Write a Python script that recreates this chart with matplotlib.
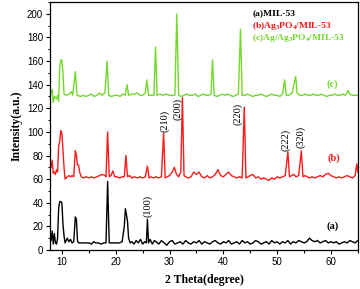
import matplotlib
matplotlib.use('Agg')
import matplotlib.pyplot as plt
from matplotlib.ticker import MultipleLocator

# hand-read points (2theta, intensity) for each pattern
mil53 = [(8.0, 8), (8.2, 16), (8.4, 5), (8.6, 14), (8.8, 6), (9.0, 5), (9.2, 10), (9.4, 35),
         (9.6, 41), (9.8, 41), (10.0, 40), (10.2, 22), (10.4, 12), (10.6, 6), (10.8, 8),
         (11.0, 10), (11.3, 7), (11.6, 9), (11.9, 6), (12.2, 7), (12.5, 28), (12.7, 26),
         (12.9, 8), (13.1, 6), (13.5, 6), (14.0, 6), (14.5, 6), (15.0, 6), (15.5, 5),
         (15.9, 7), (16.3, 6), (16.8, 6), (17.3, 5), (17.8, 6), (18.2, 6), (18.5, 58),
         (18.8, 6), (19.2, 6), (19.7, 6), (20.2, 6), (20.7, 6), (21.2, 7), (21.6, 20),
         (21.8, 35), (22.0, 30), (22.2, 24), (22.4, 10), (22.7, 6), (23.0, 7), (23.4, 5),
         (23.8, 8), (24.2, 6), (24.6, 9), (25.0, 5), (25.4, 7), (25.7, 6), (25.9, 26),
         (26.1, 6), (26.4, 9), (26.8, 5), (27.2, 8), (27.5, 7), (28.0, 5), (28.5, 8),
         (29.0, 6), (29.5, 4), (30.0, 7), (30.5, 8), (31.0, 5), (31.5, 6), (32.0, 7),
         (32.5, 5), (33.0, 8), (33.5, 6), (34.0, 5), (34.5, 7), (35.0, 6), (35.5, 8),
         (36.0, 5), (36.5, 7), (37.0, 6), (37.5, 5), (38.0, 7), (38.5, 8), (39.0, 6),
         (39.5, 5), (40.0, 7), (40.5, 6), (41.0, 8), (41.5, 5), (42.0, 6), (42.5, 7),
         (43.0, 5), (43.5, 8), (44.0, 6), (44.5, 7), (45.0, 5), (45.5, 6), (46.0, 8),
         (46.5, 7), (47.0, 5), (47.5, 6), (48.0, 7), (48.5, 5), (49.0, 8), (49.5, 6),
         (50.0, 7), (50.5, 5), (51.0, 7), (51.5, 6), (52.0, 8), (52.5, 5), (53.0, 7),
         (53.5, 6), (54.0, 8), (54.5, 7), (55.0, 6), (55.5, 7), (56.0, 10), (56.5, 8),
         (57.0, 7), (57.5, 8), (58.0, 6), (58.5, 7), (59.0, 8), (59.5, 6), (60.0, 7),
         (60.5, 6), (61.0, 7), (61.5, 5), (62.0, 6), (62.5, 7), (63.0, 6), (63.5, 8),
         (64.0, 7), (64.5, 6), (65.0, 8)]

ag3po4_mil53 = [(8.0, 70), (8.2, 76), (8.4, 65), (8.6, 66), (8.8, 64), (9.0, 68), (9.2, 66),
                (9.4, 88), (9.6, 92), (9.8, 101), (10.0, 99), (10.2, 84), (10.4, 70),
                (10.6, 60), (10.8, 61), (11.0, 62), (11.3, 63), (11.6, 62), (11.9, 63),
                (12.2, 62), (12.5, 84), (12.7, 80), (12.9, 72), (13.1, 72), (13.3, 66),
                (13.6, 62), (14.0, 61), (14.5, 62), (15.0, 61), (15.5, 62), (16.0, 61),
                (16.5, 62), (17.0, 63), (17.5, 64), (18.0, 63), (18.2, 62), (18.5, 100),
                (18.8, 62), (19.1, 63), (19.5, 67), (19.8, 62), (20.2, 62), (20.7, 61),
                (21.2, 62), (21.6, 62), (21.9, 80), (22.2, 62), (22.6, 63), (23.0, 61),
                (23.5, 62), (24.0, 61), (24.5, 62), (25.0, 61), (25.5, 62), (25.9, 71),
                (26.2, 61), (26.6, 62), (27.0, 61), (27.5, 62), (28.0, 61), (28.5, 62),
                (28.9, 99), (29.2, 61), (29.6, 62), (30.0, 63), (30.5, 66), (30.9, 70),
                (31.3, 64), (31.7, 62), (32.1, 66), (32.4, 129), (32.7, 63), (33.0, 62),
                (33.5, 61), (34.0, 62), (34.5, 66), (35.0, 64), (35.5, 66), (36.0, 62),
                (36.5, 61), (37.0, 63), (37.5, 61), (38.0, 62), (38.5, 64), (39.0, 68),
                (39.5, 63), (40.0, 62), (40.5, 64), (41.0, 66), (41.5, 63), (42.0, 62),
                (42.5, 61), (43.0, 62), (43.5, 61), (43.9, 121), (44.2, 61), (44.6, 62),
                (45.0, 63), (45.5, 64), (46.0, 61), (46.5, 62), (47.0, 60), (47.5, 61),
                (48.0, 60), (48.5, 59), (49.0, 61), (49.5, 60), (50.0, 62), (50.5, 61),
                (51.0, 62), (51.5, 63), (52.0, 83), (52.3, 62), (52.7, 63), (53.1, 64),
                (53.5, 62), (54.0, 63), (54.5, 84), (54.8, 62), (55.2, 63), (55.6, 62),
                (56.0, 61), (56.5, 62), (57.0, 61), (57.5, 62), (58.0, 63), (58.5, 62),
                (59.0, 64), (59.5, 65), (60.0, 63), (60.5, 62), (61.0, 61), (61.5, 62),
                (62.0, 61), (62.5, 62), (63.0, 63), (63.5, 62), (64.0, 61), (64.5, 63),
                (64.8, 73), (65.0, 66)]

ag_ag3po4_mil53 = [(8.0, 133), (8.2, 136), (8.4, 125), (8.6, 130), (9.0, 128), (9.2, 131),
                   (9.4, 126), (9.6, 155), (9.8, 161), (10.0, 161), (10.2, 150), (10.4, 132),
                   (10.8, 131), (11.3, 132), (11.8, 134), (12.0, 131), (12.5, 151),
                   (12.8, 131), (13.5, 130), (14.0, 131), (14.5, 130), (15.0, 131),
                   (15.5, 132), (16.0, 130), (16.5, 131), (17.0, 133), (17.5, 131),
                   (18.0, 133), (18.4, 160), (18.7, 131), (19.2, 130), (19.8, 131),
                   (20.3, 131), (20.8, 130), (21.3, 132), (21.8, 131), (22.1, 140),
                   (22.4, 131), (23.0, 132), (23.5, 132), (24.0, 133), (24.5, 131),
                   (25.0, 131), (25.5, 133), (25.8, 144), (26.1, 131), (26.6, 131),
                   (27.1, 131), (27.4, 172), (27.7, 131), (28.2, 132), (28.8, 131),
                   (29.4, 132), (30.0, 131), (30.5, 131), (31.0, 131), (31.35, 200),
                   (31.7, 131), (32.2, 130), (32.7, 131), (33.2, 132), (33.7, 131),
                   (34.3, 131), (34.8, 132), (35.3, 130), (35.8, 131), (36.3, 132),
                   (36.8, 131), (37.3, 131), (37.7, 132), (38.0, 161), (38.3, 131),
                   (38.8, 130), (39.3, 131), (39.8, 132), (40.3, 131), (40.8, 132),
                   (41.3, 131), (41.8, 130), (42.3, 131), (42.8, 132), (43.2, 187),
                   (43.5, 131), (44.0, 131), (44.5, 132), (45.0, 131), (45.5, 130),
                   (46.0, 131), (46.5, 131), (47.0, 132), (47.5, 131), (48.0, 130),
                   (48.5, 131), (49.0, 132), (49.5, 131), (50.0, 131), (50.5, 130),
                   (51.0, 132), (51.4, 144), (51.7, 131), (52.2, 131), (52.8, 133),
                   (53.2, 142), (53.45, 147), (53.7, 133), (54.2, 131), (54.7, 131),
                   (55.2, 132), (55.7, 131), (56.2, 131), (56.7, 132), (57.2, 131),
                   (57.7, 131), (58.2, 132), (58.7, 131), (59.2, 130), (59.7, 131),
                   (60.2, 131), (60.7, 132), (61.2, 131), (61.7, 131), (62.2, 132),
                   (62.7, 131), (63.2, 135), (63.5, 132), (64.0, 131), (64.5, 131),
                   (65.0, 131)]

# (hkl) labels: text, x, y of label bottom
hkl_labels = [('(100)', 25.9, 28), ('(210)', 29.1, 100), ('(200)', 31.6, 110),
              ('(220)', 42.6, 106), ('(222)', 51.6, 84), ('(320)', 54.4, 86)]

legend_names = ['(a)MIL-53', '(b)Ag$_3$PO$_4$/MIL-53', '(c)Ag/Ag$_3$PO$_4$/MIL-53']
curve_tags = [('(a)', 60.3, 20), ('(b)', 60.5, 78), ('(c)', 60.3, 140)]

black = 'black'
red = '#ff1a1a'
green = '#72d92a'
colors = [black, red, green]

plt.rcParams['mathtext.fontset'] = 'custom'
plt.rcParams['mathtext.rm'] = 'Liberation Serif:bold'
plt.rcParams['mathtext.it'] = 'Liberation Serif:bold'
plt.rcParams['mathtext.bf'] = 'Liberation Serif:bold'

fig = plt.figure(figsize=(3.6, 2.89), dpi=100)
ax = fig.add_axes([0.139, 0.135, 0.855, 0.858])

for pts, c in zip([mil53, ag3po4_mil53, ag_ag3po4_mil53], colors):
    xs, ys = zip(*pts)
    ax.plot(xs, ys, color=c, lw=1.0)

ax.set_xlim(7.8, 65)
ax.set_ylim(0, 210)
ax.xaxis.set_major_locator(MultipleLocator(10))
ax.xaxis.set_minor_locator(MultipleLocator(5))
ax.yaxis.set_major_locator(MultipleLocator(20))
ax.yaxis.set_minor_locator(MultipleLocator(10))
ax.tick_params(which='major', direction='out', length=3, width=0.8, labelsize=7, pad=2)
ax.tick_params(which='minor', direction='out', length=1.8, width=0.8)
for lab in ax.get_xticklabels() + ax.get_yticklabels():
    lab.set_fontfamily('Liberation Sans')
for s in ax.spines.values():
    s.set_linewidth(0.9)

serif = 'Liberation Serif'
ax.set_xlabel('2 Theta(degree)', family=serif, fontweight='bold', fontsize=8.5, labelpad=5)
ax.set_ylabel('Intensity(a.u.)', family=serif, fontweight='bold', fontsize=8.5, labelpad=3)

for txt, x, y in hkl_labels:
    ax.text(x, y, txt, rotation=90, ha='center', va='bottom', family=serif, fontsize=7.5)

for (txt, x, y), c in zip(curve_tags, colors):
    ax.text(x, y, txt, color=c, ha='center', va='center', family=serif,
            fontweight='bold', fontsize=7.5)

for i, (name, c) in enumerate(zip(legend_names, colors)):
    ax.text(45.4, 200.5 - 10.6 * i, name, color=c, ha='left', va='center', family=serif,
            fontweight='bold', fontsize=6.8)

fig.savefig('out.png', dpi=100)
